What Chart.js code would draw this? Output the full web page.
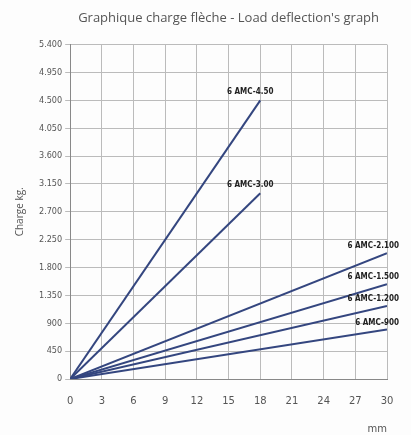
<!DOCTYPE html>
<html>
<head>
<meta charset="utf-8">
<script src="https://cdn.jsdelivr.net/npm/chart.js@4.4.0/dist/chart.umd.min.js"></script>
<style>
  html, body { margin: 0; padding: 0; background: #fdfdfd; }
  #wrap { width: 411px; height: 435px; }
</style>
</head>
<body>
<div id="wrap"><canvas id="myChart" width="411" height="435"></canvas></div>
<script>
// modeles et point final de chaque droite (mm, kg)
const modeles = ["6 AMC-4.50", "6 AMC-3.00", "6 AMC-2.100", "6 AMC-1.500", "6 AMC-1.200", "6 AMC-900"];
const flecheMax = [18, 18, 30, 30, 30, 30];
const chargeMax = [4500, 3000, 2030, 1530, 1180, 800];
const xTicks = [0, 3, 6, 9, 12, 15, 18, 21, 24, 27, 30];
const yTicks = [0, 450, 900, 1350, 1800, 2250, 2700, 3150, 3600, 4050, 4500, 4950, 5400];

const bleu = '#34467f';
const condensed = "'Liberation Sans Narrow', 'DejaVu Sans Condensed', sans-serif";

let datasets = [];
for (let i = 0; i < modeles.length; i++) {
  datasets.push({
    label: modeles[i],
    data: [{ x: 0, y: 0 }, { x: flecheMax[i], y: chargeMax[i] }],
    borderColor: bleu,
    borderWidth: 2,
    pointRadius: 0,
    fill: false
  });
}

// etiquette au bout de chaque droite
const etiquettes = {
  id: 'etiquettes',
  afterDatasetsDraw(chart) {
    const ctx = chart.ctx;
    ctx.save();
    ctx.font = "bold 8px " + condensed;
    ctx.fillStyle = '#222';
    ctx.textBaseline = 'bottom';
    chart.data.datasets.forEach(function (ds, i) {
      const meta = chart.getDatasetMeta(i);
      const p = meta.data[meta.data.length - 1];
      if (flecheMax[i] >= 30) {
        ctx.textAlign = 'right';
        ctx.fillText(ds.label, p.x + 12, p.y - 3);
      } else {
        ctx.textAlign = 'center';
        ctx.fillText(ds.label, p.x - 10, p.y - 4);
      }
    });
    ctx.restore();
  }
};

function fmt(v) {
  if (v >= 1000) {
    const s = String(v);
    return s.slice(0, s.length - 3) + '.' + s.slice(-3);
  }
  return String(v);
}

new Chart(document.getElementById('myChart'), {
  type: 'line',
  data: { datasets: datasets },
  plugins: [etiquettes],
  options: {
    responsive: false,
    animation: false,
    layout: { padding: { left: 10, right: 24, top: 4, bottom: 0 } },
    plugins: {
      legend: { display: false },
      tooltip: { enabled: false },
      title: {
        display: true,
        fullSize: false,
        text: "Graphique charge flèche - Load deflection's graph",
        color: '#555',
        font: { family: "'Open Sans', sans-serif", size: 13, weight: 'normal' },
        padding: { top: 6, bottom: 19 },
        align: 'center'
      }
    },
    scales: {
      x: {
        type: 'linear',
        min: 0,
        max: 30,
        afterBuildTicks: function (axis) { axis.ticks = xTicks.map(v => ({ value: v })); },
        grid: { color: '#bbb', lineWidth: 1, drawTicks: false },
        border: { color: '#888' },
        ticks: { color: '#555', padding: 16, font: { family: "'DejaVu Sans', sans-serif", size: 10 } },
        title: {
          display: true, text: 'mm', align: 'end', color: '#555',
          font: { family: "'DejaVu Sans', sans-serif", size: 10 }, padding: { top: 0, bottom: 0 }
        }
      },
      y: {
        min: 0,
        max: 5400,
        afterBuildTicks: function (axis) { axis.ticks = yTicks.map(v => ({ value: v })); },
        grid: { color: '#bbb', lineWidth: 1, tickLength: 5 },
        border: { color: '#888' },
        ticks: {
          color: '#555', padding: 3,
          font: { family: condensed, size: 9 },
          callback: function (v) { return fmt(v); }
        },
        title: {
          display: true, text: 'Charge kg.', color: '#555',
          font: { family: "'Open Sans', sans-serif", size: 10 }, padding: { bottom: 10 }
        }
      }
    }
  }
});
</script>
</body>
</html>
